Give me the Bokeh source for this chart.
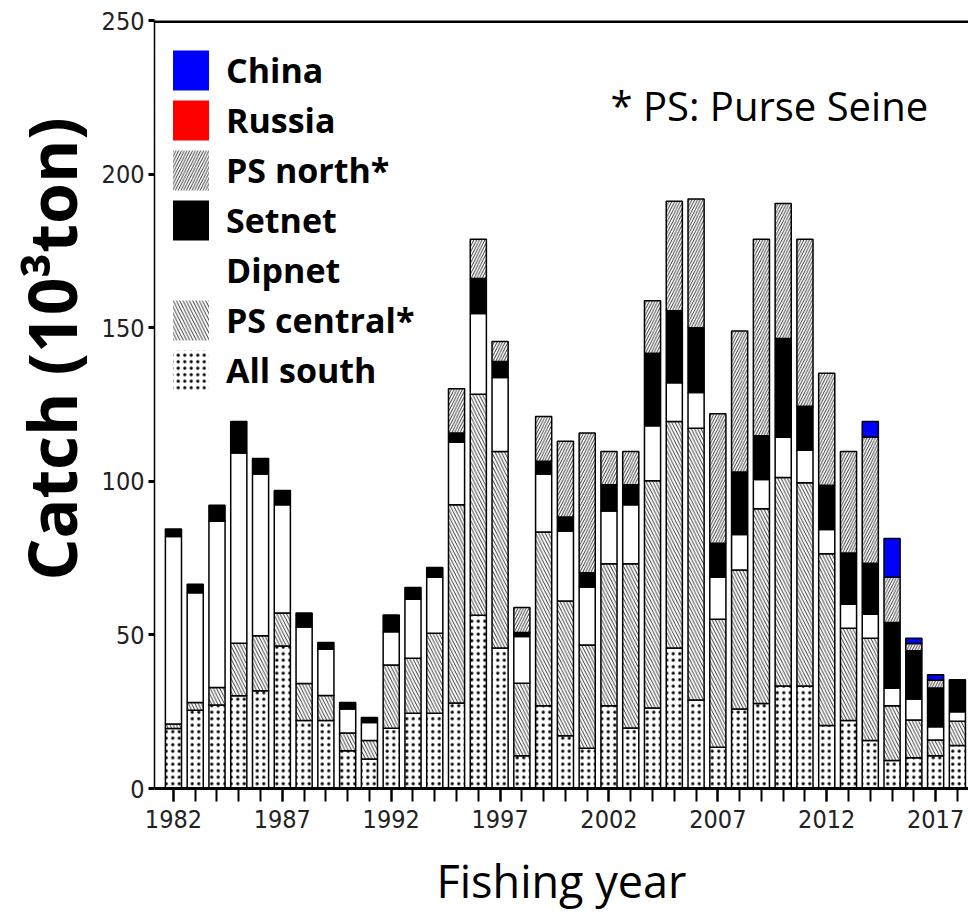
import numpy as np
from bokeh.plotting import figure
from bokeh.models import (ColumnDataSource, FixedTicker, Span, Label, Legend,
                          LegendItem, Range1d, Title)
from bokeh.embed import file_html
from bokeh.resources import INLINE

# Catch by fishery and fishing year, thousand tons
years = list(range(1982, 2019))
all_south = [19.5, 25.5, 27.2, 30.2, 31.8, 46.4, 22.1, 22.1, 12.3, 9.6,
             19.6, 24.5, 24.5, 27.8, 56.4, 45.7, 10.7, 26.9, 17.2, 13.1,
             26.9, 19.7, 26.2, 45.7, 28.8, 13.4, 25.9, 27.7, 33.4, 33.4,
             20.5, 22.1, 15.6, 9.1, 10.0, 10.7, 14.0]
ps_central = [1.5, 2.5, 5.7, 17.1, 17.9, 10.7, 12.1, 8.2, 5.8, 6.0,
              20.6, 17.9, 26.0, 64.6, 71.9, 64.0, 23.6, 56.6, 43.8, 33.6,
              46.3, 53.5, 74.0, 73.8, 88.5, 41.7, 45.2, 63.4, 67.8, 66.1,
              55.9, 30.1, 33.3, 17.8, 12.3, 5.1, 7.9]
dipnet = [61.0, 35.7, 54.1, 61.9, 52.7, 35.3, 18.4, 15.0, 7.8, 5.9,
          10.8, 19.2, 18.3, 20.3, 26.3, 24.1, 15.2, 18.9, 22.8, 18.9,
          17.1, 19.2, 17.9, 12.6, 11.6, 13.7, 11.6, 9.5, 13.1, 10.6,
          7.9, 7.8, 7.8, 5.7, 6.8, 4.3, 3.1]
setnet = [2.5, 2.8, 5.2, 10.3, 5.0, 4.6, 4.5, 2.2, 2.1, 1.6,
          5.5, 3.8, 3.1, 3.0, 11.4, 5.2, 1.3, 4.1, 4.6, 4.6,
          8.6, 6.5, 23.6, 23.4, 21.1, 11.0, 20.3, 14.2, 32.2, 14.3,
          14.4, 16.7, 16.6, 21.4, 15.7, 12.6, 10.4]
ps_north = [0, 0, 0, 0, 0, 0, 0, 0, 0, 0,
            0, 0, 0, 14.4, 12.8, 6.5, 8.1, 14.6, 24.6, 45.5,
            10.8, 10.8, 17.1, 35.7, 41.9, 42.2, 45.9, 64.0, 43.9, 54.4,
            36.5, 33.0, 41.1, 14.8, 2.4, 2.6, 0]
russia = [0, 0, 0, 0, 0, 0, 0, 0, 0, 0,
          0, 0, 0, 0, 0, 0, 0, 0, 0, 0,
          0, 0, 0, 0, 0, 0, 0, 0, 0, 0,
          0, 0, 0, 0, 0, 0, 0]
china = [0, 0, 0, 0, 0, 0, 0, 0, 0, 0,
         0, 0, 0, 0, 0, 0, 0, 0, 0, 0,
         0, 0, 0, 0, 0, 0, 0, 0, 0, 0,
         0, 0, 5.1, 12.6, 1.7, 1.7, 0]

year_labels = [1982, 1987, 1992, 1997, 2002, 2007, 2012, 2017]
catch_ticks = [0, 50, 100, 150, 200, 250]

# bottom-to-top stacking order with the fill style of each fishery
layers = [
    ("All south", all_south, dict(fill_color="white", hatch_pattern="dot",
                                  hatch_scale=6.5, hatch_weight=1.8)),
    ("PS central*", ps_central, dict(fill_color="white", hatch_pattern="left_diagonal_line",
                                     hatch_scale=6.5, hatch_weight=0.8)),
    ("Dipnet", dipnet, dict(fill_color="white")),
    ("Setnet", setnet, dict(fill_color="black")),
    ("PS north*", ps_north, dict(fill_color="white", hatch_pattern="right_diagonal_line",
                                 hatch_scale=5.5, hatch_weight=0.8)),
    ("Russia", russia, dict(fill_color="#ff0000")),
    ("China", china, dict(fill_color="#0000ff")),
]

tick_font = "Liberation Sans Narrow, DejaVu Sans Condensed, sans-serif"

p = figure(width=968, height=918, output_backend="svg", toolbar_location=None,
           x_range=Range1d(1981.13, 2018.51), y_range=Range1d(0, 250),
           min_border_left=153, min_border_right=0, min_border_top=20,
           min_border_bottom=130)
p.outline_line_color = None
p.xgrid.visible = False
p.ygrid.visible = False
p.background_fill_color = "white"
p.border_fill_color = "white"

base = np.zeros(len(years))
yr = np.array(years)
legend_renderers = {}
for name, vals, style in layers:
    vals = np.array(vals, dtype=float)
    top = base + vals
    keep = vals > 0
    src = ColumnDataSource(dict(x=yr[keep], bottom=base[keep], top=top[keep]))
    p.vbar(x="x", bottom="bottom", top="top", width=0.74, source=src,
           line_color="black", line_width=1.5, hatch_color="black", **style)
    # legend swatch renderer: one undrawn (NaN) row, no outline
    legend_renderers[name] = p.vbar(x=[np.nan], bottom=[np.nan], top=[np.nan], width=0.74,
                                    line_color=None, hatch_color="black", **style)
    base = top

order = ["China", "Russia", "PS north*", "Setnet", "Dipnet", "PS central*", "All south"]
legend = Legend(items=[LegendItem(label=n, renderers=[legend_renderers[n]]) for n in order],
                location=(14, 393), padding=0, margin=0, spacing=0,
                glyph_width=45, glyph_height=50, label_standoff=13,
                label_text_font="Open Sans", label_text_font_style="bold",
                label_text_font_size="34px", label_text_color="black",
                border_line_color=None, background_fill_alpha=0)
p.add_layout(legend)

# top frame line
p.add_layout(Span(location=250, dimension="width", line_color="black", line_width=5))

# x axis
xa = p.xaxis[0]
xa.ticker = FixedTicker(ticks=year_labels, minor_ticks=years)
xa.axis_line_width = 3
xa.axis_line_color = "black"
xa.major_tick_in = 0
xa.major_tick_out = 13
xa.minor_tick_in = 0
xa.minor_tick_out = 13
xa.major_tick_line_width = 2
xa.minor_tick_line_width = 2
xa.major_label_text_font = tick_font
xa.major_label_text_font_size = "25px"
xa.major_label_text_color = "#222222"
xa.major_label_standoff = 8
xa.axis_label = "Fishing year"
xa.axis_label_text_font = "Open Sans"
xa.axis_label_text_font_style = "normal"
xa.axis_label_text_font_size = "45px"
xa.axis_label_text_color = "black"
xa.axis_label_standoff = 19

# y axis
ya = p.yaxis[0]
ya.ticker = FixedTicker(ticks=catch_ticks, minor_ticks=[])
ya.axis_line_width = 1.5
ya.axis_line_color = "black"
ya.major_tick_in = 0
ya.major_tick_out = 6
ya.major_tick_line_width = 3
ya.minor_tick_out = 0
ya.minor_tick_in = 0
ya.major_label_text_font = tick_font
ya.major_label_text_font_size = "25px"
ya.major_label_text_color = "#222222"
ya.major_label_standoff = 4

# y title, shifted up from the frame centre
p.add_layout(Title(text="Catch (10³ton)", align="left", offset=208,
                   text_font="Open Sans", text_font_style="bold",
                   text_font_size="66px", text_color="black", standoff=6), "left")

p.add_layout(Label(x=456, y=683, x_units="screen", y_units="screen",
                   text="* PS: Purse Seine", text_align="left", text_baseline="alphabetic",
                   text_font="Open Sans", text_font_size="40px",
                   text_color="black"))

open("out.html", "w").write(file_html(p, INLINE))
